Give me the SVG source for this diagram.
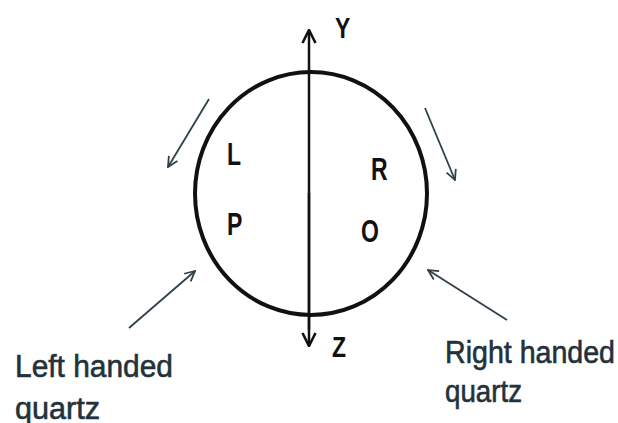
<svg xmlns="http://www.w3.org/2000/svg" width="618" height="423" viewBox="0 0 618 423">
<style>
.lbl{font-family:"Liberation Sans",Arial,sans-serif;font-weight:bold;font-size:23px;fill:#111}
.cap{font-family:"Liberation Sans",Arial,sans-serif;font-size:26px;fill:#22313a;stroke:#22313a;stroke-width:0.5}
.thin{stroke:#2f4048;stroke-width:1.8;fill:none}
</style>
<defs>
<marker id="ah" viewBox="0 0 12 12" refX="11" refY="6" markerWidth="12" markerHeight="12" markerUnits="userSpaceOnUse" orient="auto">
<polyline points="1,1 11,6 1,11" fill="none" stroke="#2f4048" stroke-width="1.8"/>
</marker>
<marker id="ax" viewBox="0 0 16 16" refX="15" refY="8" markerWidth="16" markerHeight="16" markerUnits="userSpaceOnUse" orient="auto">
<polyline points="2,1.5 15,8 2,14.5" fill="none" stroke="#111" stroke-width="2.6"/>
</marker>
</defs>
<rect width="618" height="423" fill="#fff"/>
<g id="circle">
<ellipse cx="311" cy="193.5" rx="116" ry="121.5" fill="none" stroke="#111" stroke-width="4"/>
</g>
<g id="connectors">
<line x1="309" y1="330" x2="309" y2="30" stroke="#111" stroke-width="2.5" marker-end="url(#ax)"/>
<line x1="309" y1="193" x2="309" y2="346" stroke="#111" stroke-width="2.5" marker-end="url(#ax)"/>
<line class="thin" x1="209" y1="99" x2="168" y2="167" marker-end="url(#ah)"/>
<line class="thin" x1="425" y1="108" x2="455" y2="180" marker-end="url(#ah)"/>
<line class="thin" x1="129" y1="328" x2="195" y2="271" marker-end="url(#ah)"/>
<line class="thin" x1="507" y1="320" x2="428" y2="270" marker-end="url(#ah)"/>
</g>
<g id="labels">
<text class="lbl" transform="translate(335,38) scale(1,1.3)">Y</text>
<text class="lbl" transform="translate(332,357) scale(1,1.3)">Z</text>
<text class="lbl" transform="translate(227,165) scale(1,1.38)">L</text>
<text class="lbl" transform="translate(371,180) scale(1,1.38)">R</text>
<text class="lbl" transform="translate(227,235) scale(1,1.38)">P</text>
<text class="lbl" transform="translate(361,242) scale(1,1.38)">O</text>
</g>
<g id="left-label">
<text class="cap" transform="translate(15,377) scale(1,1.24)" textLength="158" lengthAdjust="spacingAndGlyphs">Left handed</text>
<text class="cap" transform="translate(15,419) scale(1,1.24)" textLength="85" lengthAdjust="spacingAndGlyphs">quartz</text>
</g>
<g id="right-label">
<text class="cap" transform="translate(445,363) scale(1,1.24)" textLength="170" lengthAdjust="spacingAndGlyphs">Right handed</text>
<text class="cap" transform="translate(445,402) scale(1,1.24)" textLength="77" lengthAdjust="spacingAndGlyphs">quartz</text>
</g>
</svg>
